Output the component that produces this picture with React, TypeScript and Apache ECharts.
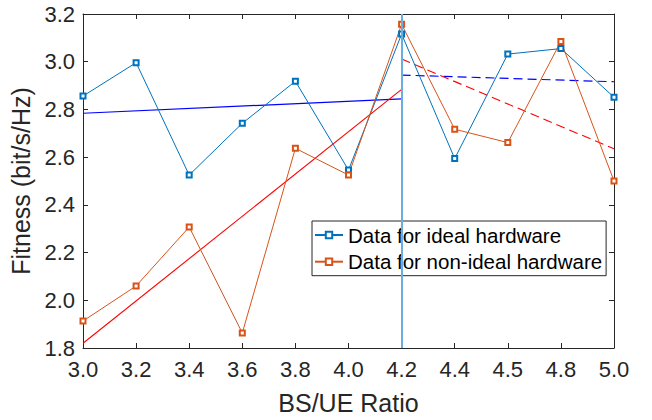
import React, { useEffect, useRef } from "react";
import * as echarts from "echarts";

const categories = ["3.0", "3.2", "3.4", "3.6", "3.8", "4.0", "4.2", "4.4", "4.5", "4.8", "5.0"];
const idealValues = [2.856, 2.996, 2.525, 2.742, 2.918, 2.546, 3.116, 2.594, 3.032, 3.055, 2.851];
const nonIdealValues = [1.913, 2.06, 2.307, 1.863, 2.637, 2.525, 3.157, 2.717, 2.661, 3.085, 2.5];
// fit lines: [startCategory, startValue, endCategory, endValue]
const idealFitLeft: [string, number, string, number] = ["3.0", 2.784, "4.2", 2.844];
const nonIdealFitLeft: [string, number, string, number] = ["3.0", 1.82, "4.2", 2.884];
const idealFitRight: [string, number, string, number] = ["4.2", 2.944, "5.0", 2.916];
const nonIdealFitRight: [string, number, string, number] = ["4.2", 3.011, "5.0", 2.635];
const splitCategory = "4.2";
const yTicks = { min: 1.8, max: 3.2, interval: 0.2 };

const TEXT = "#262626";
const FONT = "Liberation Sans, Arial, Helvetica, sans-serif";

function fitData(f: [string, number, string, number]) {
  return categories.map((c) => (c === f[0] ? f[1] : c === f[2] ? f[3] : null));
}

export default function App() {
  const ref = useRef<HTMLDivElement>(null);
  useEffect(() => {
    if (!ref.current) return;
    const chart = echarts.init(ref.current, undefined, { renderer: "svg" });
    const axisLine = { show: true, lineStyle: { color: TEXT, width: 1 } };
    const tick = { show: true, inside: true, length: 5, lineStyle: { color: TEXT } };
    chart.setOption({
      animation: false,
      backgroundColor: "#ffffff",
      textStyle: { fontFamily: FONT },
      grid: { left: 83, right: 38, top: 14, bottom: 72 },
      xAxis: [
        {
          type: "category",
          data: categories,
          boundaryGap: false,
          position: "bottom",
          axisLine,
          axisTick: { ...tick, alignWithLabel: true },
          axisLabel: { color: TEXT, fontSize: 22, fontFamily: FONT, margin: 10 },
          splitLine: { show: false },
          name: "BS/UE Ratio",
          nameLocation: "middle",
          nameGap: 42,
          nameTextStyle: { color: TEXT, fontSize: 25, fontFamily: FONT },
        },
        {
          type: "category",
          data: categories,
          boundaryGap: false,
          position: "top",
          axisLine,
          axisTick: tick,
          axisLabel: { show: false },
          splitLine: { show: false },
        },
      ],
      yAxis: [
        {
          type: "value",
          min: yTicks.min,
          max: yTicks.max,
          interval: yTicks.interval,
          position: "left",
          axisLine,
          axisTick: tick,
          axisLabel: {
            color: TEXT,
            fontSize: 22,
            fontFamily: FONT,
            margin: 8,
            formatter: (v: number) => v.toFixed(1),
          },
          splitLine: { show: false },
          name: "Fitness (bit/s/Hz)",
          nameLocation: "middle",
          nameGap: 40,
          nameTextStyle: { color: TEXT, fontSize: 25, fontFamily: FONT },
        },
        {
          type: "value",
          min: yTicks.min,
          max: yTicks.max,
          interval: yTicks.interval,
          position: "right",
          axisLine,
          axisTick: tick,
          axisLabel: { show: false },
          splitLine: { show: false },
        },
      ],
      legend: {
        data: ["Data for ideal hardware", "Data for non-ideal hardware"],
        orient: "vertical",
        left: 312,
        top: 221,
        padding: [3, 4, 3, 2],
        itemGap: 4.7,
        itemWidth: 28,
        itemHeight: 8,
        backgroundColor: "#ffffff",
        borderColor: TEXT,
        borderWidth: 1,
        textStyle: { color: "#000000", fontSize: 20.5, fontFamily: FONT, lineHeight: 22 },
      },
      series: [
        {
          name: "fitIdealLeft",
          type: "line",
          data: fitData(idealFitLeft),
          connectNulls: true,
          symbol: "none",
          lineStyle: { color: "#0000ff", width: 1.2 },
          z: 1,
          markLine: {
            silent: true,
            symbol: ["none", "none"],
            label: { show: false },
            lineStyle: { color: "#6aaee0", width: 2, type: "solid" },
            data: [{ xAxis: splitCategory }],
          },
        },
        {
          name: "fitNonIdealLeft",
          type: "line",
          data: fitData(nonIdealFitLeft),
          connectNulls: true,
          symbol: "none",
          lineStyle: { color: "#ff0000", width: 1.1 },
          z: 1,
        },
        {
          name: "fitIdealRight",
          type: "line",
          data: fitData(idealFitRight),
          connectNulls: true,
          symbol: "none",
          lineStyle: { color: "#0000ff", width: 1.2, type: [9, 5] },
          z: 1,
        },
        {
          name: "fitNonIdealRight",
          type: "line",
          data: fitData(nonIdealFitRight),
          connectNulls: true,
          symbol: "none",
          lineStyle: { color: "#ff0000", width: 1.1, type: [9, 5] },
          z: 1,
        },
        {
          name: "Data for ideal hardware",
          type: "line",
          data: idealValues,
          symbol: "emptyRect",
          symbolSize: 5,
          color: "#0072bd",
          lineStyle: { color: "#0072bd", width: 1 },
          itemStyle: { color: "#0072bd", borderColor: "#0072bd", borderWidth: 1 },
          z: 3,
        },
        {
          name: "Data for non-ideal hardware",
          type: "line",
          data: nonIdealValues,
          symbol: "emptyRect",
          symbolSize: 5,
          color: "#d95319",
          lineStyle: { color: "#d95319", width: 1 },
          itemStyle: { color: "#d95319", borderColor: "#d95319", borderWidth: 1 },
          z: 3,
        },
      ],
    });
    return () => chart.dispose();
  }, []);
  return <div ref={ref} style={{ width: 652, height: 420, position: "absolute", left: 0, top: 0 }} />;
}
